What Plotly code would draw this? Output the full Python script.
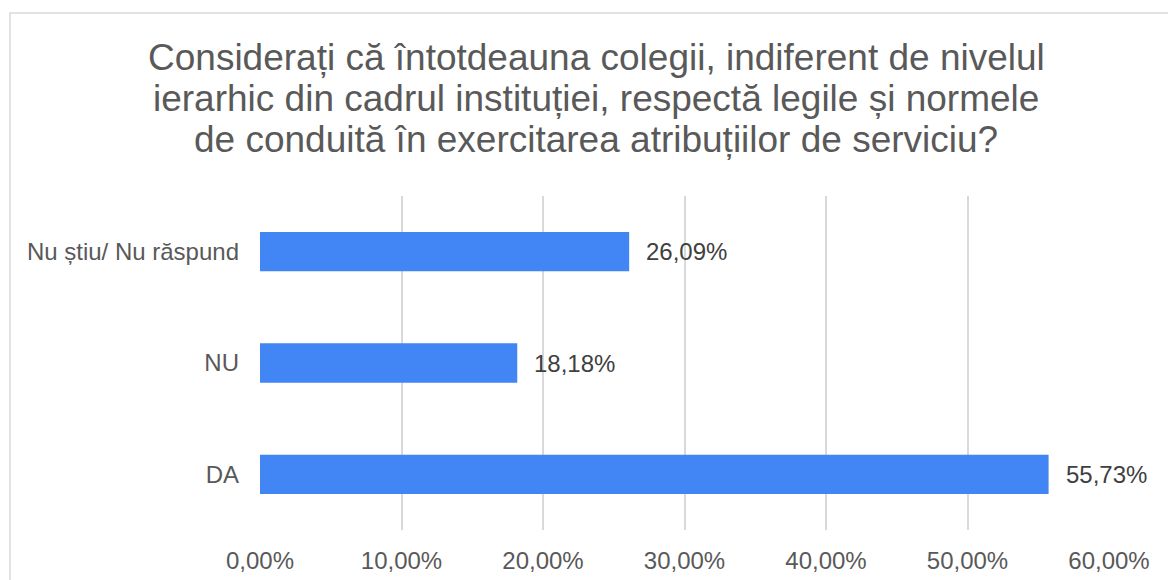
import plotly.graph_objects as go

categories = ["DA", "NU", "Nu știu/ Nu răspund"]
values = [0.5573, 0.1818, 0.2609]
label_texts = ["55,73%", "18,18%", "26,09%"]
x_ticks = [0, 0.1, 0.2, 0.3, 0.4, 0.5, 0.6]
title_lines = ["Considerați că întotdeauna colegii, indiferent de nivelul",
               "ierarhic din cadrul instituției, respectă legile și normele",
               "de conduită în exercitarea atribuțiilor de serviciu?"]

FONT = "Arial, 'Liberation Sans', sans-serif"
W, H = 1168, 580
L, R, T, B = 260, 59, 196, 50
pw, ph = W - L - R, H - T - B

fig = go.Figure()
fig.add_trace(go.Bar(
    y=categories, x=values, orientation="h",
    marker=dict(color="#4285F4", line=dict(width=0)),
    hoverinfo="skip",
))

for c, v, t in zip(categories, values, label_texts):
    fig.add_annotation(x=v, y=c, xref="x", yref="y", text=t, showarrow=False,
                       xanchor="left", yanchor="middle", xshift=15,
                       font=dict(family=FONT, size=24, color="#404040"))

# title lines (centre of each line in pixels from top)
title_centres = [57, 98, 139]
for line, cy in zip(title_lines, title_centres):
    fig.add_annotation(x=(596 - L) / pw, y=(H - B - cy) / ph,
                       xref="paper", yref="paper", text=line, showarrow=False,
                       xanchor="center", yanchor="middle",
                       font=dict(family=FONT, size=37, color="#595959"))

# outer chart border (left/top visible)
fig.add_shape(type="rect", xref="paper", yref="paper",
              x0=(10 - L) / pw, x1=(W + 20 - L) / pw,
              y0=-(B + 20) / ph, y1=(H - B - 13) / ph,
              line=dict(color="#d9d9d9", width=1.5), layer="below")

fig.update_layout(
    width=W, height=H,
    margin=dict(l=L, r=R, t=T, b=B, autoexpand=False),
    paper_bgcolor="white", plot_bgcolor="white",
    separators=",.",
    bargap=0.646,
    showlegend=False,
    font=dict(family=FONT, color="#595959"),
)
fig.update_xaxes(range=[0, 0.6], tickvals=x_ticks, tickformat=".2%",
                 showgrid=True, gridcolor="#d9d9d9", gridwidth=1.5,
                 zeroline=False, showline=False, ticks="",
                 ticklabelstandoff=14,
                 tickfont=dict(family=FONT, size=24, color="#595959"),
                 fixedrange=True)
fig.update_yaxes(showgrid=False, zeroline=False, showline=False, ticks="",
                 ticklabelstandoff=20,
                 tickfont=dict(family=FONT, size=24, color="#595959"),
                 fixedrange=True)

fig.write_html("out.html", config=dict(displayModeBar=False),
               post_script="document.body.style.margin='0';document.body.style.overflow='hidden';")
